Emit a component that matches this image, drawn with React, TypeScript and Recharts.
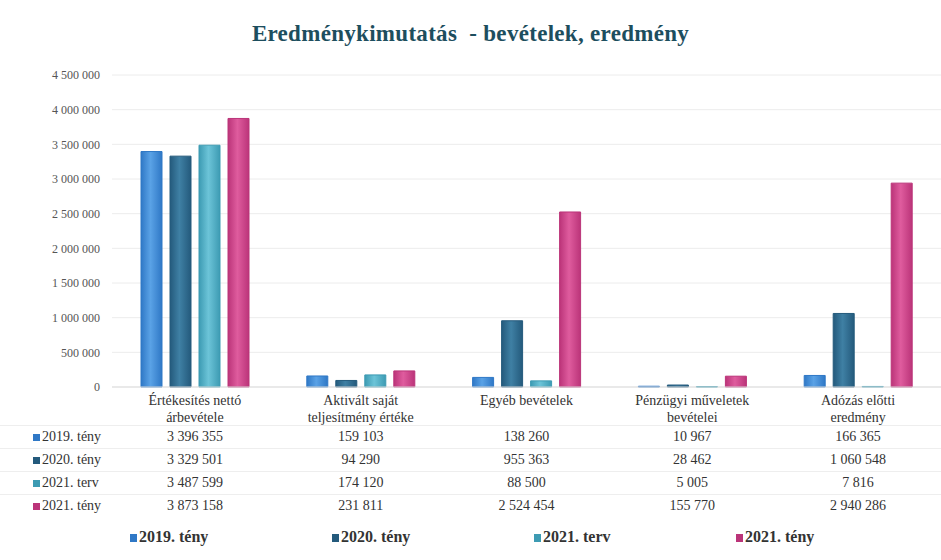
import React from "react";
import { BarChart, Bar, XAxis, YAxis, CartesianGrid } from "recharts";

const categories = [
  ["Értékesítés nettó", "árbevétele"],
  ["Aktivált saját", "teljesítmény értéke"],
  ["Egyéb bevételek"],
  ["Pénzügyi műveletek", "bevételei"],
  ["Adózás előtti", "eredmény"],
];

const teny2019 = [3396355, 159103, 138260, 10967, 166365];
const teny2020 = [3329501, 94290, 955363, 28462, 1060548];
const terv2021 = [3487599, 174120, 88500, 5005, 7816];
const teny2021 = [3873158, 231811, 2524454, 155770, 2940286];

const yTicks = [0, 500000, 1000000, 1500000, 2000000, 2500000, 3000000, 3500000, 4000000, 4500000];

const series = [
  { key: "s2019", name: "2019. tény", values: teny2019, color: "#2f78c6", light: "#5aa2e6" },
  { key: "s2020", name: "2020. tény", values: teny2020, color: "#245a7c", light: "#3f80a4" },
  { key: "s2021t", name: "2021. terv", values: terv2021, color: "#3d9bb3", light: "#6cc4d8" },
  { key: "s2021", name: "2021. tény", values: teny2021, color: "#bb3479", light: "#df5c9e" },
];

const data = categories.map((c, i) => {
  const row: any = { name: c.join(" ") };
  series.forEach((s) => (row[s.key] = s.values[i]));
  return row;
});

const fmt = (n: number) => String(n).replace(/\B(?=(\d{3})+(?!\d))/g, " ");

const serif = '"Liberation Serif", "DejaVu Serif", serif';

const CategoryTick = (props: any) => {
  const { x, y, index } = props;
  const lines = categories[index] || [];
  return (
    <g>
      {lines.map((l, i) => (
        <text
          key={i}
          x={x}
          y={y + 10 + i * 17}
          textAnchor="middle"
          fontSize={14}
          fontFamily={serif}
          fill="#333"
        >
          {l}
        </text>
      ))}
    </g>
  );
};

const plotLeft = 112;
const catWidth = (941 - plotLeft) / categories.length;

export default function App() {
  return (
    <div
      style={{
        position: "absolute",
        left: 0,
        top: 0,
        width: 941,
        height: 560,
        background: "#fff",
        fontFamily: serif,
      }}
    >
      <div
        style={{
          position: "absolute",
          top: 21,
          left: 0,
          width: 941,
          textAlign: "center",
          fontSize: 23,
          fontWeight: "bold",
          color: "#1d4e5e",
          letterSpacing: 0.3,
        }}
      >
        Eredménykimutatás&nbsp; - bevételek, eredmény
      </div>
      <div style={{ position: "absolute", left: 0, top: 0 }}>
        <BarChart
          width={941}
          height={430}
          data={data}
          margin={{ top: 75, right: 0, left: 0, bottom: 0 }}
          barSize={21}
          barGap={8}
        >
          <defs>
            {series.map((s) => (
              <linearGradient key={s.key} id={"g-" + s.key} x1="0" y1="0" x2="1" y2="0">
                <stop offset="0%" stopColor={s.color} />
                <stop offset="45%" stopColor={s.light} />
                <stop offset="100%" stopColor={s.color} />
              </linearGradient>
            ))}
          </defs>
          <CartesianGrid vertical={false} stroke="#ececec" />
          <XAxis
            dataKey="name"
            height={43}
            tick={<CategoryTick />}
            tickLine={false}
            axisLine={{ stroke: "#dddddd" }}
            interval={0}
          />
          <YAxis
            width={plotLeft}
            domain={[0, 4500000]}
            ticks={yTicks}
            tickFormatter={fmt}
            tickLine={false}
            axisLine={false}
            tickSize={0}
            tickMargin={12}
            tick={{ fontSize: 12, fontFamily: serif, fill: "#555" }}
          />
          {series.map((s) => (
            <Bar
              key={s.key}
              dataKey={s.key}
              name={s.name}
              fill={`url(#g-${s.key})`}
              stroke={s.color}
              isAnimationActive={false}
            />
          ))}
        </BarChart>
      </div>
      {/* data table */}
      <div style={{ position: "absolute", left: 0, top: 425, width: 941 }}>
        {series.map((s) => (
          <div
            key={s.key}
            style={{
              position: "relative",
              height: 22,
              borderTop: "1px solid #eeeeee",
              fontSize: 14,
              color: "#333",
            }}
          >
            <div style={{ position: "absolute", left: 33, top: 3, whiteSpace: "nowrap" }}>
              <span
                style={{
                  display: "inline-block",
                  width: 7,
                  height: 7,
                  background: s.color,
                  marginRight: 2,
                }}
              />
              {s.name}
            </div>
            {s.values.map((v, i) => (
              <div
                key={i}
                style={{
                  position: "absolute",
                  left: plotLeft + i * catWidth,
                  width: catWidth,
                  top: 3,
                  textAlign: "center",
                }}
              >
                {fmt(v)}
              </div>
            ))}
          </div>
        ))}
      </div>
      {/* legend */}
      <div style={{ position: "absolute", top: 528, left: 0, width: 941 }}>
        {series.map((s, i) => (
          <div
            key={s.key}
            style={{
              position: "absolute",
              left: 130 + i * 202,
              whiteSpace: "nowrap",
              fontSize: 16,
              fontWeight: "bold",
              color: "#333",
            }}
          >
            <span
              style={{
                display: "inline-block",
                width: 7,
                height: 8,
                background: s.color,
                marginRight: 2,
              }}
            />
            {s.name}
          </div>
        ))}
      </div>
    </div>
  );
}
